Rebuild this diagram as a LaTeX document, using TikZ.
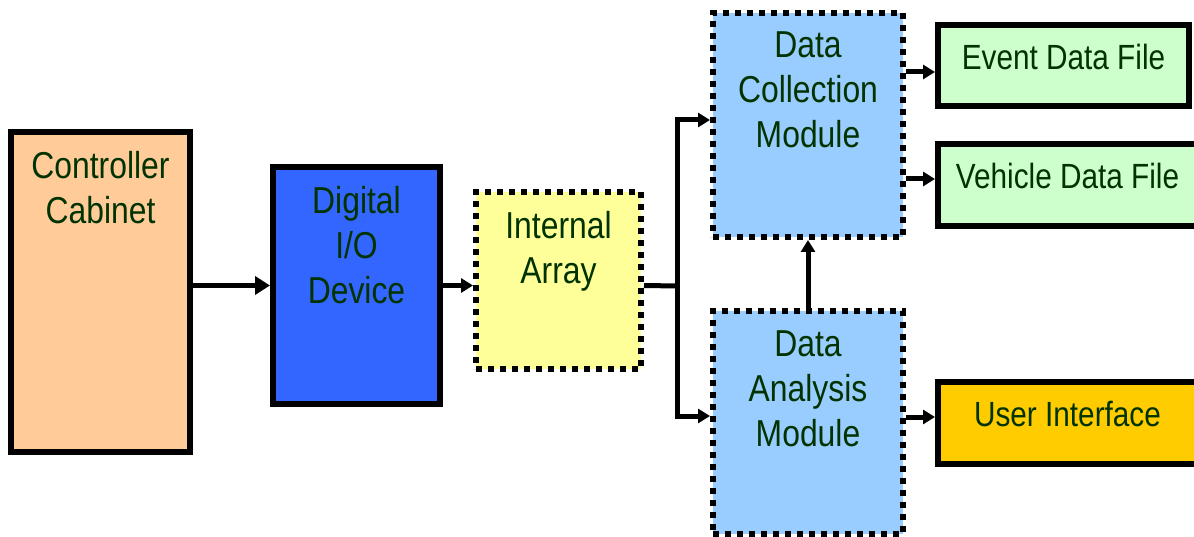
\documentclass[tikz,border=0pt]{standalone}
\usepackage{fontspec}
\setmainfont{Liberation Sans}[FakeStretch=0.85]
\usetikzlibrary{arrows.meta}
\definecolor{cabinet}{HTML}{FFCC99}
\definecolor{digital}{HTML}{3366FF}
\definecolor{internal}{HTML}{FFFF99}
\definecolor{module}{HTML}{99CCFF}
\definecolor{datafile}{HTML}{CCFFCC}
\definecolor{userif}{HTML}{FFCC00}
\definecolor{txtgreen}{HTML}{003300}
\begin{document}
\begin{tikzpicture}[x=1pt,y=-1pt,
    solidbox/.style={draw,line width=6pt,rectangle},
    dotbox/.style={draw,line width=6pt,rectangle,dash pattern=on 6pt off 6pt},
    lbl/.style={anchor=north,yshift=-22pt,inner sep=0pt,align=center,text=txtgreen,
      font=\fontsize{37.5}{45}\selectfont},
    flbl/.style={lbl,font=\fontsize{35}{42}\selectfont},
    line/.style={line width=5pt},
    arr/.style={line,-{Triangle[length=12pt,width=14pt]}},
    bigarr/.style={line,-{Triangle[length=15pt,width=18pt]}}]
        \useasboundingbox (0,0) rectangle (1194,537);
        \draw (100.5,292) node[solidbox,fill=cabinet,minimum width=179pt,minimum height=320pt,
          label={[lbl]north:{Controller\\Cabinet}}](cab){};
        \draw (356.5,285.5) node[solidbox,fill=digital,minimum width=167pt,minimum height=237pt,
          label={[lbl]north:{Digital\\I/O\\Device}}](dio){};
        \draw (558.5,280.5) node[dotbox,fill=internal,minimum width=165pt,minimum height=177pt,
          label={[lbl]north:{Internal\\Array}}](ia){};
        \draw (808,125) node[dotbox,fill=module,minimum width=190pt,minimum height=224pt,
          label={[lbl]north:{Data\\Collection\\Module}}](dcm){};
        \draw (808,422.5) node[dotbox,fill=module,minimum width=190pt,minimum height=223pt,
          label={[lbl]north:{Data\\Analysis\\Module}}](dam){};
        \draw (1063.5,65.5) node[solidbox,fill=datafile,minimum width=251pt,minimum height=81pt,
          label={[flbl]north:{Event Data File}}](evt){};
        \draw (1067.5,185) node[solidbox,fill=datafile,minimum width=259pt,minimum height=82pt,
          label={[flbl]north:{Vehicle Data File}}](veh){};
        \draw (1067.5,423) node[solidbox,fill=userif,minimum width=259pt,minimum height=82pt,
          label={[flbl]north:{User Interface}}](ui){};
        \coordinate (bus) at (677,286);
        \draw[bigarr] (dio.west -| cab.east) -- (dio.west);
        \draw[arr] (dio.east) -- (dio.east -| ia.west);
        \draw[line] (dio.east -| ia.east) -- (bus);
        \draw[arr] (bus) |- ([yshift=5pt]dcm.west);
        \draw[arr] (bus) |- ([yshift=6.5pt]dam.west);
        \draw[arr] (dam.north) -- (dcm.south);
        \draw[arr] ([yshift=-6.5pt]evt.west -| dcm.east) -- ([yshift=-6.5pt]evt.west);
        \draw[arr] ([yshift=6pt]veh.west -| dcm.east) -- ([yshift=6pt]veh.west);
        \draw[arr] ([yshift=6pt]ui.west -| dam.east) -- ([yshift=6pt]ui.west);
      \end{tikzpicture}
\end{document}
